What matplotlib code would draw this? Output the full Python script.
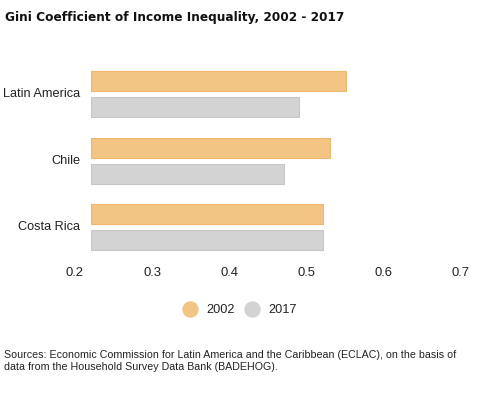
import matplotlib
matplotlib.use("Agg")
import matplotlib.pyplot as plt
from matplotlib.lines import Line2D

categories = ["Latin America", "Chile", "Costa Rica"]
series_names = ["2002", "2017"]
values_2002 = [0.551, 0.530, 0.521]
values_2017 = [0.490, 0.471, 0.521]
xticks = [0.2, 0.3, 0.4, 0.5, 0.6, 0.7]
xtick_labels = ["0.2", "0.3", "0.4", "0.5", "0.6", "0.7"]
BAR_BASE = 0.221

title = "Gini Coefficient of Income Inequality, 2002 - 2017"
source = ("Sources: Economic Commission for Latin America and the Caribbean (ECLAC), on the basis of\n"
          "data from the Household Survey Data Bank (BADEHOG).")

C2002, E2002 = "#F3C584", "#F0B66A"
C2017, E2017 = "#D3D3D3", "#C6C6C6"

plt.rcParams['font.family'] = ['Liberation Sans', 'DejaVu Sans']

W, H = 488, 395
fig = plt.figure(figsize=(W/100, H/100), dpi=100)

x0, x1 = 75, 461
y_top, y_bot = 60.75, 260.25
ax = fig.add_axes([x0/W, 1 - y_bot/H, (x1-x0)/W, (y_bot-y_top)/H])

n = len(categories)
ypos = list(range(n))
bh = 20/66.5
off = 13/66.5
ax.barh([y - off for y in ypos], [v - BAR_BASE for v in values_2002], left=BAR_BASE,
        height=bh, color=C2002, edgecolor=E2002, linewidth=0.75)
ax.barh([y + off for y in ypos], [v - BAR_BASE for v in values_2017], left=BAR_BASE,
        height=bh, color=C2017, edgecolor=E2017, linewidth=0.75)

ax.set_xlim(0.2, 0.7)
ax.set_ylim(n - 0.5, -0.5)
ax.set_xticks(xticks)
ax.set_xticklabels(xtick_labels, fontsize=9.4, color="#222222")
ax.tick_params(axis='x', length=0, pad=4.5)
ax.set_yticks([])
for s in ax.spines.values():
    s.set_visible(False)

for i, c in enumerate(categories):
    ax.annotate(c, xy=(BAR_BASE, i), xytext=(-8, 0), textcoords='offset points',
                ha='right', va='center', fontsize=9.2, color="#222222")

fig.text(5/W, 1 - 18/H, title, ha='left', va='center', fontsize=9.7,
         fontweight='bold', family='DejaVu Sans', fontstretch='condensed', color="#111111")

fig.text(4/W, 1 - 361/H, source, ha='left', va='center', fontsize=7.7,
         color="#222222", linespacing=1.2)

handles = [Line2D([], [], marker='o', linestyle='none', markersize=10.8,
                  markerfacecolor=C2002, markeredgecolor=C2002),
           Line2D([], [], marker='o', linestyle='none', markersize=10.8,
                  markerfacecolor=C2017, markeredgecolor=C2017)]
fig.legend(handles, series_names, loc='center', bbox_to_anchor=(239.5/W, 1 - 310/H),
           ncol=2, frameon=False, fontsize=9.2, handlelength=1.2,
           handletextpad=0.65, columnspacing=0.75, labelcolor="#222222")

fig.savefig("out.png", dpi=100)
